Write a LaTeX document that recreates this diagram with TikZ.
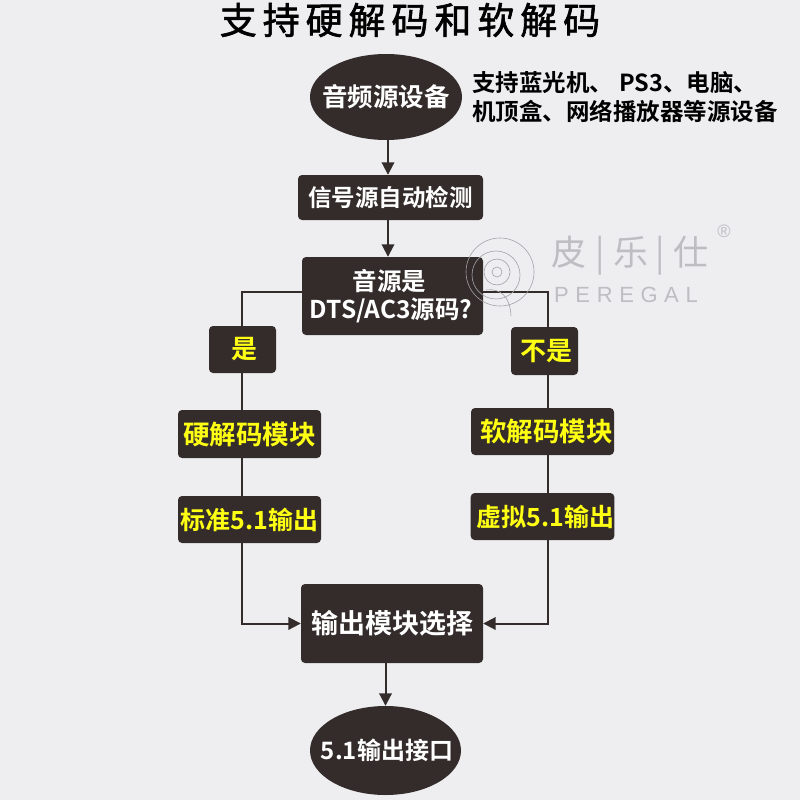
\documentclass[tikz,border=0pt]{standalone}
\usepackage{fontspec}
\setmainfont{Noto Sans CJK SC}[BoldFont={Noto Sans CJK SC Bold}]
\newfontfamily\wmlatin{Liberation Sans}
\newfontfamily\titlefont{Noto Sans CJK SC}[FakeBold=1.6,LetterSpace=16]
\usetikzlibrary{shapes.geometric,arrows.meta}
\definecolor{pagebg}{HTML}{EEEEF1}
\definecolor{ink}{HTML}{332C2B}
\definecolor{wmark}{HTML}{BDBDC2}
\definecolor{wmring}{HTML}{A2A2A8}
\definecolor{hl}{HTML}{FFFF14}
\newcommand{\fs}[1]{\fontsize{#1}{#1}\selectfont}
\tikzset{
  x=1pt,y=-1pt,
  boxbase/.style={fill=ink,rounded corners=4pt,inner sep=0pt,align=center,font=\bfseries},
  whitebox/.style={boxbase,text=white},
  yellowbox/.style={boxbase,text=hl},
  oval/.style={ellipse,fill=ink,text=white,inner sep=0pt,font=\bfseries},
  wire/.style={draw=ink,line width=2pt},
  arrowwire/.style={wire,-{Triangle[length=12.5pt,width=12.5pt]}},
  wmline/.style={draw=wmring,line width=.6pt}
}
\begin{document}
\begin{tikzpicture}
\useasboundingbox[fill=pagebg] (0,0) rectangle (800,800);
% title
\node[font=\titlefont\fs{37},text=black,anchor=center] (title) at (410,20) {支持硬解码和软解码};
% nodes
\node[oval,minimum width=152pt,minimum height=86pt,font=\bfseries\fs{25.5}] (src) at (386,97) {\makebox[0pt][c]{音频源设备}};
\node[anchor=west,align=left,font=\bfseries\fs{23.5},inner sep=0pt] (note) at (472,97) {支持蓝光机、\hspace{6pt}PS3、电脑、\\[6pt]机顶盒、网络播放器等源设备};
\node[whitebox,minimum width=185pt,minimum height=45pt,font=\bfseries\fs{23.5}] (detect) at (390.5,197.5) {信号源自动检测};
\node[whitebox,minimum width=181pt,minimum height=78pt,font=\bfseries\fs{24.5}] (dec) at (392.5,296) {\hspace{-6pt}音源是\\[4pt]\hspace{-3pt}DTS/AC3源码?};
\node[yellowbox,minimum width=67pt,minimum height=47pt,font=\bfseries\fs{26}] (yes) at (242.5,349.5) {\hspace{4pt}是};
\node[yellowbox,minimum width=67pt,minimum height=48pt,font=\bfseries\fs{26}] (no) at (544.5,351) {\hspace{3pt}不是};
\node[yellowbox,minimum width=143pt,minimum height=48pt,font=\bfseries\fs{26.5}] (hard) at (249.5,434) {硬解码模块};
\node[yellowbox,minimum width=143pt,minimum height=47pt,font=\bfseries\fs{26.5}] (soft) at (542.5,431.5) {\hspace{8pt}软解码模块};
\node[yellowbox,minimum width=143pt,minimum height=47pt,font=\bfseries\fs{25}] (std) at (249.5,519.5) {标准5.1输出};
\node[yellowbox,minimum width=143pt,minimum height=47pt,font=\bfseries\fs{25}] (virt) at (542.5,516.5) {\hspace{6pt}虚拟5.1输出};
\node[whitebox,minimum width=182pt,minimum height=79pt,font=\bfseries\fs{27}] (out) at (392,623.5) {输出模块选择};
\node[oval,minimum width=151pt,minimum height=89pt,font=\bfseries\fs{24}] (port) at (385.5,750.5) {\makebox[0pt][c]{\hspace{3pt}5.1输出接口}};
% routing columns
\coordinate (lc) at (242,292);
\coordinate (rc) at (548,292);
\coordinate (tc) at (388,200);
% connectors
\draw[arrowwire] (src.south -| tc) -- (detect.north -| tc);
\draw[arrowwire] (detect.south -| tc) -- (dec.north -| tc);
\draw[wire] (dec.west |- lc) -- (lc) -- (lc |- yes.north);
\draw[wire] (lc |- yes.south) -- (lc |- hard.north);
\draw[wire] (lc |- hard.south) -- (lc |- std.north);
\draw[arrowwire] (lc |- std.south) -- (lc |- out.west) -- (out.west);
\draw[wire] (dec.east |- rc) -- (rc) -- (rc |- no.north);
\draw[wire] (rc |- no.south) -- (rc |- soft.north);
\draw[wire] (rc |- soft.south) -- (rc |- virt.north);
\draw[arrowwire] (rc |- virt.south) -- (rc |- out.east) -- (out.east);
\draw[arrowwire] (out.south -| port) -- (port.north);
% watermark
\draw[wmline] (500,272) circle (34);
\draw[wmline] (496,275) circle (24);
\draw[wmline] (497,272) circle (13);
\draw[wmline] (497,272) circle (5);
\draw[wmline] (486,290) .. controls (500,288) and (510,296) .. (511,316);
\node[text=wmark,font=\fs{35},anchor=center] (wm1) at (630,256) {皮\hspace{9pt}|\hspace{9pt}乐\hspace{7pt}|\hspace{9pt}仕};
\node[text=wmark,font=\wmlatin\fs{22},anchor=center] (wm2) at (626,295) {\addfontfeature{LetterSpace=30}PEREGAL};
\node[text=wmark,font=\wmlatin\fs{18},anchor=center] (wm3) at (724,231) {®};
\end{tikzpicture}
\end{document}
